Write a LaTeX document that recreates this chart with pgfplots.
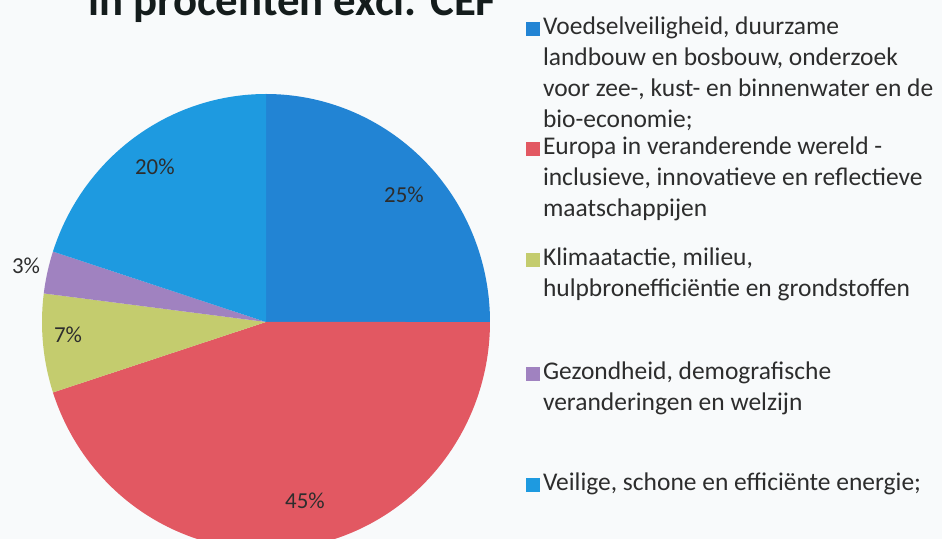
\documentclass[border=0pt]{standalone}
\usepackage{pgfplots}
\pgfplotsset{compat=1.18}
\usepackage{fontspec}
\setmainfont{Carlito}
\definecolor{cblueA}{RGB}{34,132,212}
\definecolor{cred}{RGB}{226,88,98}
\definecolor{cgreen}{RGB}{196,204,110}
\definecolor{cpurple}{RGB}{160,130,192}
\definecolor{cblueB}{RGB}{30,154,224}
\definecolor{bg}{RGB}{248,250,251}
\definecolor{textc}{RGB}{45,45,45}
\definecolor{titlec}{RGB}{20,28,28}
% percentages of the five slices
\def\vA{25}\def\vB{45}\def\vC{7}\def\vD{3}\def\vE{20}
\pgfmathsetmacro\aA{90}
\pgfmathsetmacro\aB{\aA-3.6*\vA}
\pgfmathsetmacro\aC{\aB-3.6*\vB}
\pgfmathsetmacro\aD{\aC-3.6*\vC}
\pgfmathsetmacro\aE{\aD-3.6*\vD}
\pgfmathsetmacro\aF{\aE-3.6*\vE}
\newcommand\lgent[2]{\parbox[t]{9cm}{\setlength{\baselineskip}{0.62cm}\rule{0pt}{0.4cm}#2\rule[-#1]{0pt}{#1}}}
\begin{document}
\begin{tikzpicture}
\useasboundingbox (0,0) rectangle (18.84cm,-10.78cm);
\clip (0,0) rectangle (18.84cm,-10.78cm);
\fill[bg] (0,0) rectangle (18.84cm,-10.78cm);
\node[anchor=base west, font=\bfseries\fontsize{25.5pt}{30pt}\selectfont, text=titlec, inner sep=0pt] at (1.76cm,-0.32cm) {in procenten excl. CEF};
\begin{axis}[at={(5.32cm,-6.44cm)}, anchor=center, scale only axis,
  width=8.96cm, height=9.12cm, xmin=-1, xmax=1, ymin=-1, ymax=1,
  hide axis, clip=false,
  legend style={at={(axis description cs:1.0804,1.1754)}, anchor=north west,
    draw=none, fill=none, inner sep=0pt, outer sep=0pt, row sep=0pt,
    column sep=0.06cm, font=\fontsize{14.5pt}{17pt}\selectfont, text=textc,
    nodes={inner sep=0pt, text depth=, text height=},
    cells={anchor=base west}},
  legend image code/.code={\fill[#1] (0,-0.04cm) rectangle (0.28cm,0.24cm);},
]
\addplot[fill=cblueA, draw=none, domain=\aB:\aA, samples=91, variable=\t] ({cos(\t)},{sin(\t)}) -- (axis cs:0,0) -- cycle;
\addlegendentry{\lgent{0.14cm}{Voedselveiligheid, duurzame\\landbouw en bosbouw, onderzoek\\voor zee-, kust- en binnenwater en de\\bio-economie;}}
\addplot[fill=cred, draw=none, domain=\aC:\aB, samples=121, variable=\t] ({cos(\t)},{sin(\t)}) -- (axis cs:0,0) -- cycle;
\addlegendentry{\lgent{0.58cm}{Europa in veranderende wereld -\\inclusieve, innovatieve en reflectieve\\maatschappijen}}
\addplot[fill=cgreen, draw=none, domain=\aD:\aC, samples=31, variable=\t] ({cos(\t)},{sin(\t)}) -- (axis cs:0,0) -- cycle;
\addlegendentry{\lgent{1.26cm}{Klimaatactie, milieu,\\hulpbronefficiëntie en grondstoffen}}
\addplot[fill=cpurple, draw=none, domain=\aE:\aD, samples=21, variable=\t] ({cos(\t)},{sin(\t)}) -- (axis cs:0,0) -- cycle;
\addlegendentry{\lgent{1.2cm}{Gezondheid, demografische\\veranderingen en welzijn}}
\addplot[fill=cblueB, draw=none, domain=\aF:\aE, samples=81, variable=\t] ({cos(\t)},{sin(\t)}) -- (axis cs:0,0) -- cycle;
\addlegendentry{\lgent{0cm}{Veilige, schone en efficiënte energie;}}
\node[font=\fontsize{13pt}{15pt}\selectfont, text=textc] at (axis cs:0.616,0.557) {25\%};
\node[font=\fontsize{13pt}{15pt}\selectfont, text=textc] at (axis cs:-0.496,0.680) {20\%};
\node[font=\fontsize{13pt}{15pt}\selectfont, text=textc] at (axis cs:-1.071,0.246) {3\%};
\node[font=\fontsize{13pt}{15pt}\selectfont, text=textc] at (axis cs:-0.884,-0.057) {7\%};
\node[font=\fontsize{13pt}{15pt}\selectfont, text=textc] at (axis cs:0.174,-0.785) {45\%};
\end{axis}
\end{tikzpicture}
\end{document}
